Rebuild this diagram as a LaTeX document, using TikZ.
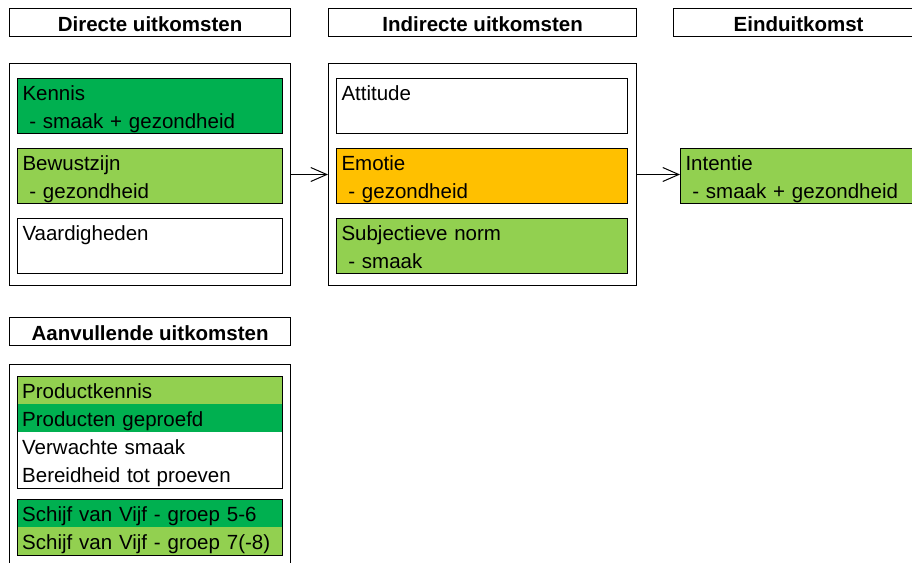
\documentclass[tikz,border=0pt]{standalone}
\usepackage{fontspec}
\setmainfont{Liberation Sans}
\usetikzlibrary{arrows.meta}

\definecolor{donker}{HTML}{00B050}
\definecolor{licht}{HTML}{92D050}
\definecolor{oranje}{HTML}{FFC000}
\newcommand\cel{\rule[-5pt]{0pt}{27pt}}

\begin{document}
\begin{tikzpicture}[x=1pt, y=-1pt,
        every node/.style={font=\fontsize{20.5}{28}\selectfont, inner sep=0pt, anchor=north west},
        kop/.style={draw, line width=1.2pt, font=\fontsize{20.5}{28}\selectfont\bfseries, minimum height=28pt, minimum width=#1},
        kader/.style={draw, line width=1pt},
        cel/.style={draw, line width=1pt, text width=#1, align=left, inner xsep=5pt, minimum height=55pt},
        rij/.style={text width=255pt, align=left, inner xsep=5pt, minimum height=28pt},
        pijl/.style={-{Straight Barb[length=16pt,width=14pt]}, line width=1pt}]
    \useasboundingbox (0,0) rectangle (912,562);
    \clip (0,0) rectangle (912,562);
        % koppen
        \node[kop=281pt] (t1) at (9,8) {\cel Directe uitkomsten};
        \node[kop=308pt] (t2) at (328,8) {\cel Indirecte uitkomsten};
        \node[kop=250pt] (t3) at (673,8) {\cel Einduitkomst};
        \node[kop=281pt] (t4) at (9,317) {\cel Aanvullende uitkomsten};
        % kaders
        \node[kader, minimum width=281pt, minimum height=222pt] (b1) at (9,63) {};
        \node[kader, minimum width=308pt, minimum height=222pt] (b2) at (328,63) {};
        \node[kader, minimum width=281pt, minimum height=215pt] (b4) at (9,364) {};
        % directe uitkomsten
        \node[cel=255pt, fill=donker] (k) at (17,78) {Kennis\cel\\\ - smaak + gezondheid\cel};
        \node[cel=255pt, fill=licht] (bw) at (17,148) {Bewustzijn\cel\\\ - gezondheid\cel};
        \node[cel=255pt, fill=white] (v) at (17,218) {Vaardigheden\cel\\\cel};
        % indirecte uitkomsten
        \node[cel=281pt, fill=white] (at) at (336,78) {Attitude\cel\\\cel};
        \node[cel=281pt, fill=oranje] (em) at (336,148) {Emotie\cel\\\ - gezondheid\cel};
        \node[cel=281pt, fill=licht] (sn) at (336,218) {Subjectieve norm\cel\\\ - smaak\cel};
        % einduitkomst
        \node[cel=250pt, fill=licht] (in) at (680,148) {Intentie\cel\\\ - smaak + gezondheid\cel};
        % aanvullende uitkomsten
        \node[rij, fill=licht] (p1) at (17,376) {\cel Productkennis};
        \node[rij, fill=donker] (p2) at (17,404) {\cel Producten geproefd};
        \node[rij] (p3) at (17,432) {\cel Verwachte smaak};
        \node[rij] (p4) at (17,460) {\cel Bereidheid tot proeven};
        \draw[line width=1pt] (p1.north west) rectangle (p4.south east);
        \node[rij, fill=donker] (s1) at (17,499) {\cel Schijf van Vijf - groep 5-6};
        \node[rij, fill=licht] (s2) at (17,527) {\cel Schijf van Vijf - groep 7(-8)};
        \draw[line width=1pt] (s1.north west) rectangle (s2.south east);
        % pijlen
        \draw[pijl] (b1.east) -- (b2.west);
        \draw[pijl] (b2.east) -- (b2.east -| in.west);
\end{tikzpicture}
\end{document}
